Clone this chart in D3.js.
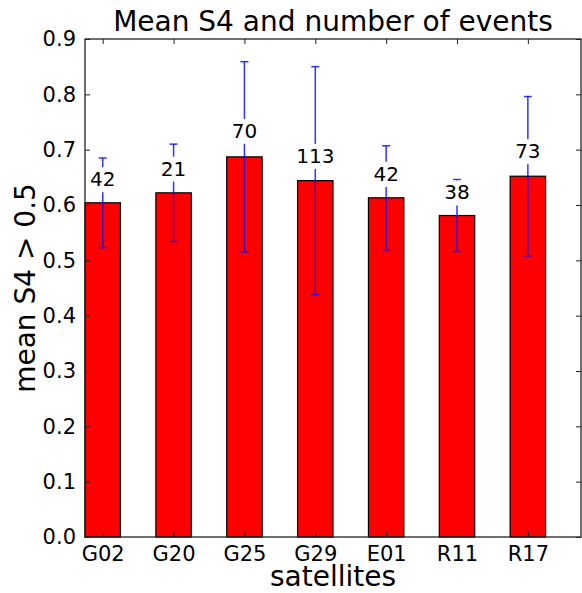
<!DOCTYPE html>
<html>
<head>
<meta charset="utf-8">
<script src="https://cdn.jsdelivr.net/npm/d3@7"></script>
<style>
  body { margin: 0; background: #fff; }
  text { font-family: "DejaVu Sans", sans-serif; fill: #000; }
</style>
</head>
<body>
<div id="chart"></div>
<script>
// data
const satellites = ["G02", "G20", "G25", "G29", "E01", "R11", "R17"];
const meanS4 = [0.604, 0.622, 0.687, 0.644, 0.613, 0.581, 0.652];
const errS4 = [0.081, 0.088, 0.172, 0.206, 0.094, 0.065, 0.144];
const events = [42, 21, 70, 113, 42, 38, 73];
const yTicks = [0, 0.1, 0.2, 0.3, 0.4, 0.5, 0.6, 0.7, 0.8, 0.9];

const width = 582, height = 593;
const margin = { top: 39, right: 1, bottom: 56, left: 85 };
const plotW = width - margin.left - margin.right,
  plotH = height - margin.top - margin.bottom;

const barColor = "#ff0000";
const errColor = "#0000ff";

let svg = d3.select('#chart').append('svg')
  .attr('width', width)
  .attr('height', height);

let g = svg.append('g')
  .attr('transform', `translate(${margin.left}, ${margin.top})`);

// x is index based like matplotlib bar(), bars 0.5 wide
const x = d3.scaleLinear().domain([-0.25, satellites.length - 0.25]).range([0, plotW]);
const y = d3.scaleLinear().domain([0, 0.9]).range([plotH, 0]);
const barW = x(0.5) - x(0);

const rows = satellites.map((s, i) => ({ name: s, i: i, mean: meanS4[i], err: errS4[i], n: events[i] }));

// bars
g.append('g').selectAll('rect')
  .data(rows)
  .enter().append('rect')
  .attr('x', d => x(d.i) - barW / 2)
  .attr('y', d => y(d.mean))
  .attr('width', barW)
  .attr('height', d => plotH - y(d.mean))
  .style('fill', barColor)
  .style('stroke', '#000')
  .style('stroke-width', 1.2);

// error bars
const err = g.append('g')
  .style('stroke', errColor)
  .style('stroke-opacity', 0.8)
  .style('stroke-width', 1.5);

err.selectAll('line.v').data(rows).enter().append('line')
  .attr('class', 'v')
  .attr('x1', d => x(d.i)).attr('x2', d => x(d.i))
  .attr('y1', d => y(d.mean - d.err)).attr('y2', d => y(d.mean + d.err));

err.selectAll('line.top').data(rows).enter().append('line')
  .attr('class', 'top')
  .attr('x1', d => x(d.i) - 4).attr('x2', d => x(d.i) + 4)
  .attr('y1', d => y(d.mean + d.err)).attr('y2', d => y(d.mean + d.err));

err.selectAll('line.bot').data(rows).enter().append('line')
  .attr('class', 'bot')
  .attr('x1', d => x(d.i) - 4).attr('x2', d => x(d.i) + 4)
  .attr('y1', d => y(d.mean - d.err)).attr('y2', d => y(d.mean - d.err));

// event counts with white box behind
const labels = g.append('g').selectAll('g')
  .data(rows)
  .enter().append('g');

labels.append('text')
  .attr('x', d => x(d.i))
  .attr('y', d => y(d.mean * 1.05))
  .attr('text-anchor', 'middle')
  .style('font-size', '20px')
  .text(d => d.n);

labels.each(function () {
  const t = d3.select(this).select('text');
  const b = t.node().getBBox();
  d3.select(this).insert('rect', 'text')
    .attr('x', b.x - 3)
    .attr('y', b.y)
    .attr('width', b.width + 6)
    .attr('height', b.height + 1)
    .style('fill', '#fff');
});

// axes, ticks pointing inwards
const axisLeft = d3.axisLeft(y).tickValues(yTicks).tickFormat(d3.format('.1f')).tickSize(-5).tickPadding(9);
const axisRight = d3.axisRight(y).tickValues(yTicks).tickFormat('').tickSize(-5);
const axisBottom = d3.axisBottom(x).tickValues(rows.map(d => d.i)).tickFormat(i => satellites[i]).tickSize(-5).tickPadding(9);
const axisTop = d3.axisTop(x).tickValues(rows.map(d => d.i)).tickFormat('').tickSize(-5);

g.append('g').call(axisLeft);
g.append('g').attr('transform', `translate(${plotW},0)`).call(axisRight);
g.append('g').attr('transform', `translate(0,${plotH})`).call(axisBottom);
g.append('g').call(axisTop);

g.selectAll('.domain').remove();
g.selectAll('.tick line').style('stroke', '#222');
g.selectAll('.tick text').style('font-size', '21px').style('font-family', '"DejaVu Sans", sans-serif').style('fill', '#000');

// frame
g.append('rect')
  .attr('width', plotW)
  .attr('height', plotH)
  .style('fill', 'none')
  .style('stroke', '#222')
  .style('stroke-width', 1.3);

// titles
svg.append('text')
  .attr('x', margin.left + plotW / 2)
  .attr('y', 31)
  .attr('text-anchor', 'middle')
  .style('font-size', '28px')
  .text('Mean S4 and number of events');

svg.append('text')
  .attr('x', margin.left + plotW / 2)
  .attr('y', 586)
  .attr('text-anchor', 'middle')
  .style('font-size', '28px')
  .text('satellites');

svg.append('text')
  .attr('transform', `translate(35, ${margin.top + plotH / 2}) rotate(-90)`)
  .attr('text-anchor', 'middle')
  .style('font-size', '28px')
  .text('mean S4 > 0.5');
</script>
</body>
</html>
